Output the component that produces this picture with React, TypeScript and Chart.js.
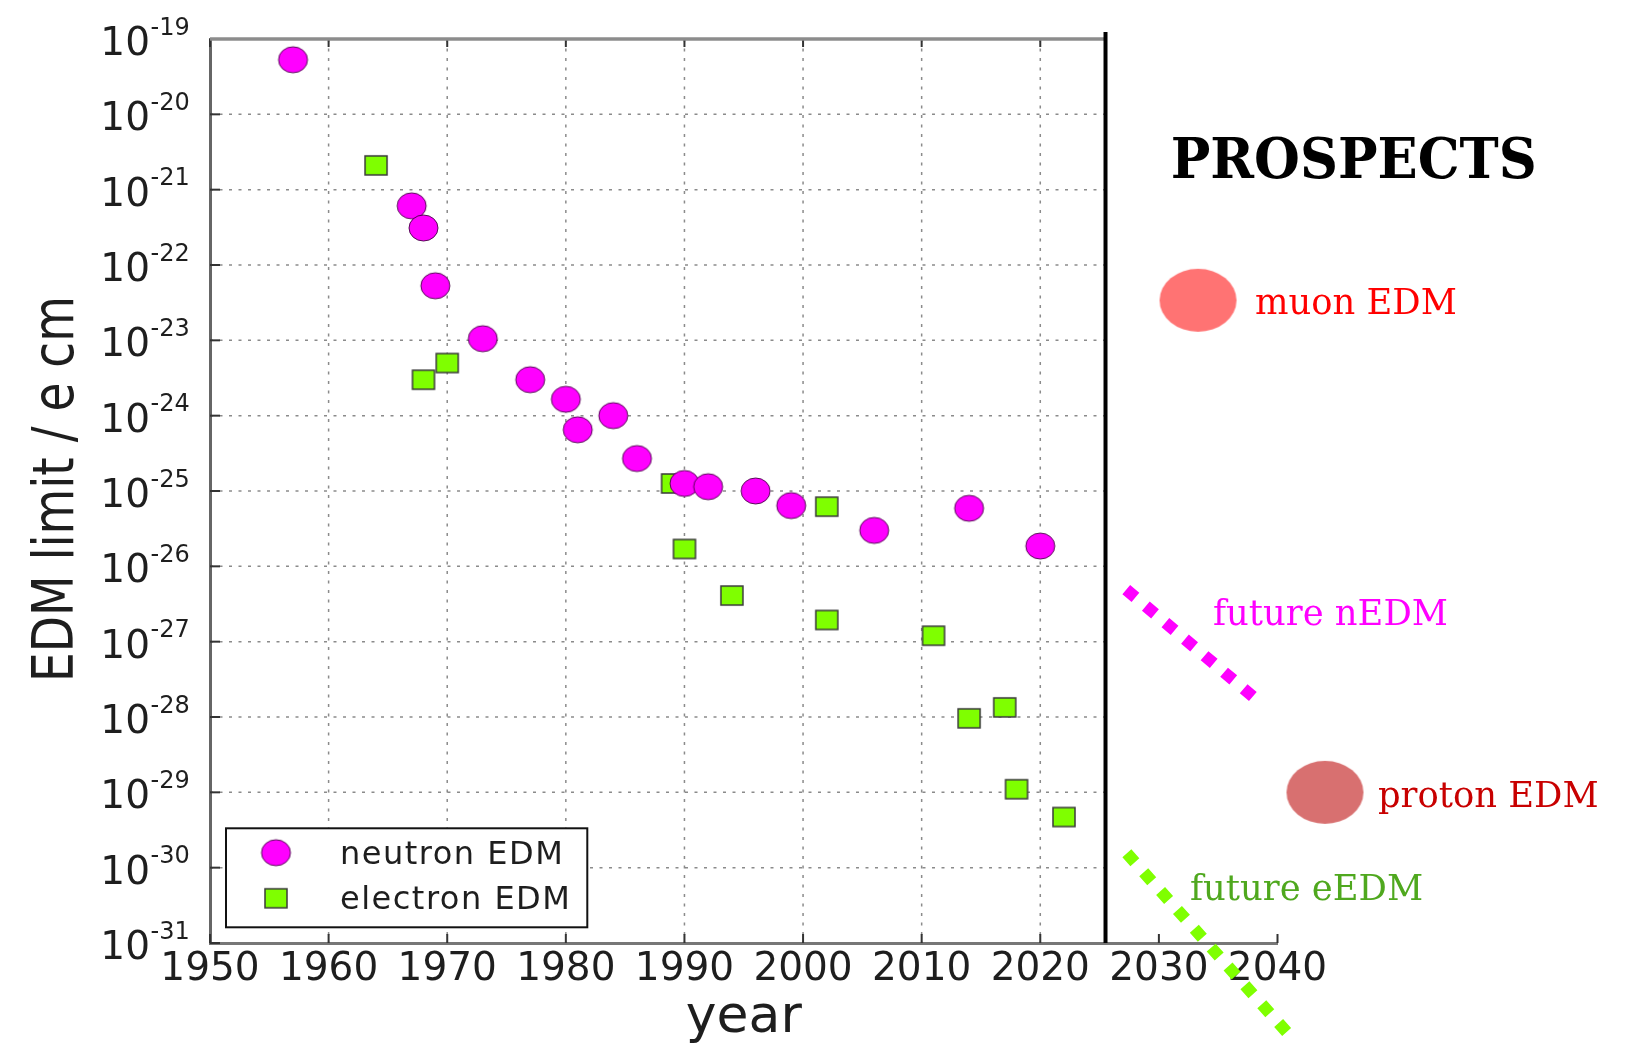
import React, { useEffect, useRef } from 'react';
import { Chart, registerables } from 'chart.js';

Chart.register(...registerables);

// ---------------- data ----------------
const neutronYears = [1957, 1967, 1968, 1969, 1973, 1977, 1980, 1981, 1984, 1986, 1990, 1992, 1996, 1999, 2006, 2014, 2020];
const neutronLimits = [5.3e-20, 6.1e-22, 3.1e-22, 5.3e-23, 1.05e-23, 3.0e-24, 1.65e-24, 6.5e-25, 1.0e-24, 2.7e-25, 1.26e-25, 1.14e-25, 1.0e-25, 6.4e-26, 3.0e-26, 5.9e-26, 1.86e-26];

const electronYears = [1964, 1968, 1970, 1989, 1990, 1994, 2002, 2002, 2011, 2014, 2017, 2018, 2022];
const electronLimits = [2.1e-21, 3.0e-24, 5.0e-24, 1.26e-25, 1.7e-26, 4.1e-27, 6.2e-26, 1.94e-27, 1.2e-27, 9.6e-29, 1.34e-28, 1.1e-29, 4.7e-30];

const futureNeutronYears = [2027.25, 2038.05];
const futureNeutronLimits = [4.9e-27, 1.8e-28];
const futureElectronYears = [2027.3, 2041.0];
const futureElectronLimits = [1.55e-30, 6.0e-33];

const muonYears = [2033.3];
const muonLimits = [3.4e-23];
const protonYears = [2044.0];
const protonLimits = [1.0e-29];

const seriesLabels = ['neutron EDM', 'electron EDM'];
const yTickExponents = [-19, -20, -21, -22, -23, -24, -25, -26, -27, -28, -29, -30, -31];
const xAxisTitle = 'year';
const yAxisTitle = 'EDM limit / e cm';
const dividerYear = 2025.5;

const prospectTexts = ['PROSPECTS', 'muon EDM', 'future nEDM', 'proton EDM', 'future eEDM'];
const prospectYears = [2031.0, 2038.1, 2034.56, 2048.47, 2032.62];
const prospectLimits = [1.43e-21, 2.27e-23, 1.66e-27, 6.38e-30, 3.7e-31];

// ---------------- styles ----------------
const prospectStyles = [
  { font: 'bold 56px "DejaVu Serif"', color: '#000000', sx: 0.94 },
  { font: '35px "DejaVu Serif"', color: '#ff0000', sx: 1.01 },
  { font: '35px "DejaVu Serif"', color: '#ff00ff', sx: 1.01 },
  { font: '35px "DejaVu Serif"', color: '#c80000', sx: 1.01 },
  { font: '35px "DejaVu Serif"', color: '#4fa81e', sx: 1.01 },
];

function ellipseSprite(w: number, h: number, fill: string, stroke: string, lw: number) {
  const c = document.createElement('canvas');
  const pad = Math.ceil(lw) + 1;
  c.width = w + 2 * pad;
  c.height = h + 2 * pad;
  const g = c.getContext('2d')!;
  g.beginPath();
  g.ellipse(c.width / 2, c.height / 2, w / 2, h / 2, 0, 0, Math.PI * 2);
  g.fillStyle = fill;
  g.fill();
  if (lw > 0) {
    g.lineWidth = lw;
    g.strokeStyle = stroke;
    g.stroke();
  }
  return c;
}

function rectSprite(w: number, h: number, fill: string, stroke: string, lw: number) {
  const c = document.createElement('canvas');
  const pad = Math.ceil(lw) + 1;
  c.width = w + 2 * pad;
  c.height = h + 2 * pad;
  const g = c.getContext('2d')!;
  g.fillStyle = fill;
  g.fillRect(pad, pad, w, h);
  g.lineWidth = lw;
  g.strokeStyle = stroke;
  g.strokeRect(pad, pad, w, h);
  return c;
}

export default function App() {
  const ref = useRef<HTMLCanvasElement>(null);

  useEffect(() => {
    document.body.style.margin = '0';
    const canvas = ref.current!;

    const neutronSprite = ellipseSprite(29, 26, '#ff00ff', 'rgba(60,0,60,0.85)', 1);
    const electronSprite = rectSprite(22, 19, '#7fff00', '#3a3a3a', 1.5);
    const muonSprite = ellipseSprite(77, 63, '#ff7373', '', 0);
    const protonSprite = ellipseSprite(77, 63, '#d87070', '', 0);

    const deco = {
      id: 'deco',
      beforeDatasetsDraw(chart: any) {
        const { ctx, chartArea: a, scales } = chart;
        const xs = scales.x;
        const ys = scales.y;
        const xd = xs.getPixelForValue(dividerYear);
        ctx.save();
        // dotted grid
        ctx.setLineDash([3, 6.5]);
        ctx.lineWidth = 1.5;
        ctx.strokeStyle = 'rgba(100,100,100,0.75)';
        for (const e of yTickExponents) {
          const py = ys.getPixelForValue(Math.pow(10, e));
          if (py <= a.top + 1 || py >= a.bottom - 1) continue;
          ctx.beginPath();
          ctx.moveTo(a.left, py);
          ctx.lineTo(xd, py);
          ctx.stroke();
        }
        for (const t of xs.ticks) {
          if (t.value <= xs.min || t.value >= dividerYear) continue;
          const px = xs.getPixelForValue(t.value);
          ctx.beginPath();
          ctx.moveTo(px, a.top);
          ctx.lineTo(px, a.bottom);
          ctx.stroke();
        }
        ctx.setLineDash([]);
        // tick marks (inward)
        ctx.strokeStyle = '#333';
        ctx.lineWidth = 2;
        for (const e of yTickExponents) {
          const py = ys.getPixelForValue(Math.pow(10, e));
          ctx.beginPath();
          ctx.moveTo(a.left, py);
          ctx.lineTo(a.left + 10, py);
          ctx.stroke();
        }
        for (const t of xs.ticks) {
          const px = xs.getPixelForValue(t.value);
          ctx.beginPath();
          ctx.moveTo(px, a.bottom);
          ctx.lineTo(px, a.bottom - 9);
          ctx.stroke();
          if (t.value < dividerYear) {
            ctx.beginPath();
            ctx.moveTo(px, a.top);
            ctx.lineTo(px, a.top + 8);
            ctx.stroke();
          }
        }
        // top spine up to divider
        ctx.strokeStyle = '#8c8c8c';
        ctx.lineWidth = 3.5;
        ctx.beginPath();
        ctx.moveTo(a.left, a.top);
        ctx.lineTo(xd, a.top);
        ctx.stroke();
        // divider line
        ctx.strokeStyle = '#000';
        ctx.lineWidth = 4;
        ctx.beginPath();
        ctx.moveTo(xd, a.top - 7);
        ctx.lineTo(xd, a.bottom);
        ctx.stroke();
        ctx.restore();
      },
      afterDraw(chart: any) {
        const { ctx, chartArea: a, scales } = chart;
        const xs = scales.x;
        const ys = scales.y;
        ctx.save();
        // y tick labels 10^n
        ctx.fillStyle = '#1e1e1e';
        ctx.textBaseline = 'alphabetic';
        for (const e of yTickExponents) {
          const py = ys.getPixelForValue(Math.pow(10, e));
          ctx.font = '39px "DejaVu Sans"';
          ctx.textAlign = 'right';
          ctx.fillText('10', a.left - 60, py + 16);
          ctx.font = '24px "DejaVu Sans"';
          ctx.textAlign = 'left';
          ctx.fillText('-' + Math.abs(e), a.left - 59.5, py - 4.5);
        }
        // y axis title
        ctx.save();
        ctx.translate(73, (a.top + a.bottom) / 2 - 2);
        ctx.rotate(-Math.PI / 2);
        ctx.scale(1, 1.22);
        ctx.font = '47px "DejaVu Sans"';
        ctx.textAlign = 'center';
        ctx.fillText(yAxisTitle, 0, 0);
        ctx.restore();

        // legend
        const bx = a.left + 16, by = a.bottom - 114.7, bw = 361.3, bh = 99;
        ctx.fillStyle = '#ffffff';
        ctx.fillRect(bx, by, bw, bh);
        ctx.strokeStyle = '#111';
        ctx.lineWidth = 2;
        ctx.strokeRect(bx, by, bw, bh);
        const sprites = [neutronSprite, electronSprite];
        const rowY = [by + 24.4, by + 70];
        for (let i = 0; i < seriesLabels.length; i++) {
          const s = sprites[i];
          ctx.drawImage(s, bx + 50 - s.width / 2, rowY[i] - s.height / 2);
          ctx.fillStyle = '#1e1e1e';
          ctx.font = '32px "DejaVu Sans"';
          ctx.textAlign = 'left';
          (ctx as any).letterSpacing = '1.5px';
          ctx.fillText(seriesLabels[i], bx + 114, rowY[i] + 11);
          (ctx as any).letterSpacing = '0px';
        }

        // prospects annotations
        for (let i = 0; i < prospectTexts.length; i++) {
          const px = xs.getPixelForValue(prospectYears[i]);
          const py = ys.getPixelForValue(prospectLimits[i]);
          ctx.save();
          ctx.translate(px, py);
          ctx.scale(prospectStyles[i].sx, 1);
          ctx.font = prospectStyles[i].font;
          ctx.fillStyle = prospectStyles[i].color;
          ctx.textAlign = 'left';
          ctx.fillText(prospectTexts[i], 0, 0);
          ctx.restore();
        }
        ctx.restore();
      },
    };

    const pts = (xsArr: number[], ysArr: number[]) => xsArr.map((x, i) => ({ x, y: ysArr[i] }));

    const chart = new Chart(canvas, {
      type: 'scatter',
      data: {
        datasets: [
          {
            label: seriesLabels[0],
            data: pts(neutronYears, neutronLimits),
            pointStyle: neutronSprite as any,
            pointRadius: 14,
            pointHoverRadius: 14,
            backgroundColor: '#ff00ff',
            borderColor: '#400040',
            showLine: false,
          },
          {
            label: seriesLabels[1],
            data: pts(electronYears, electronLimits),
            pointStyle: electronSprite as any,
            pointRadius: 12,
            pointHoverRadius: 12,
            backgroundColor: '#7fff00',
            borderColor: '#3a3a3a',
            showLine: false,
          },
          {
            label: 'future nEDM',
            data: pts(futureNeutronYears, futureNeutronLimits),
            showLine: true,
            borderColor: '#ff00ff',
            borderWidth: 12,
            borderDash: [12, 13.6],
            borderCapStyle: 'butt',
            pointRadius: 0,
            pointHoverRadius: 0,
            clip: false as any,
          },
          {
            label: 'future eEDM',
            data: pts(futureElectronYears, futureElectronLimits),
            showLine: true,
            borderColor: '#7fff00',
            borderWidth: 12,
            borderDash: [12, 13.3],
            borderCapStyle: 'butt',
            pointRadius: 0,
            pointHoverRadius: 0,
            clip: false as any,
          },
          {
            label: 'muon EDM',
            data: pts(muonYears, muonLimits),
            pointStyle: muonSprite as any,
            pointRadius: 70,
            pointHoverRadius: 70,
            showLine: false,
            clip: false as any,
          },
          {
            label: 'proton EDM',
            data: pts(protonYears, protonLimits),
            pointStyle: protonSprite as any,
            pointRadius: 70,
            pointHoverRadius: 70,
            showLine: false,
            clip: false as any,
          },
        ],
      },
      options: {
        responsive: false,
        animation: false,
        devicePixelRatio: 1,
        events: [],
        layout: { autoPadding: false, padding: { top: 39, right: 351.5, bottom: 0, left: 0 } },
        plugins: {
          legend: { display: false },
          tooltip: { enabled: false },
        },
        scales: {
          x: {
            type: 'linear',
            min: 1950,
            max: 2040,
            afterFit: (s: any) => {
              s.height = 101;
            },
            grid: { display: false, drawTicks: false },
            border: { display: true, color: '#777', width: 3 },
            ticks: {
              stepSize: 10,
              autoSkip: false,
              maxRotation: 0,
              padding: 3,
              color: '#1e1e1e',
              font: { family: 'DejaVu Sans', size: 39 },
              callback: (v: any) => String(v),
            },
            title: {
              display: true,
              text: xAxisTitle,
              color: '#1e1e1e',
              font: { family: 'DejaVu Sans', size: 52 },
              padding: { top: 0, bottom: -6 },
            },
          },
          y: {
            type: 'logarithmic',
            min: 1e-31,
            max: 1e-19,
            afterFit: (s: any) => {
              s.width = 210;
            },
            grid: { display: false, drawTicks: false },
            border: { display: true, color: '#666', width: 3 },
            ticks: { display: false },
          },
        },
      } as any,
      plugins: [deco],
    });

    return () => chart.destroy();
  }, []);

  return (
    <div style={{ position: 'absolute', left: 0, top: 0, width: 1629, height: 1044, background: '#fff' }}>
      <canvas ref={ref} width={1629} height={1044} style={{ width: 1629, height: 1044, display: 'block' }} />
    </div>
  );
}
